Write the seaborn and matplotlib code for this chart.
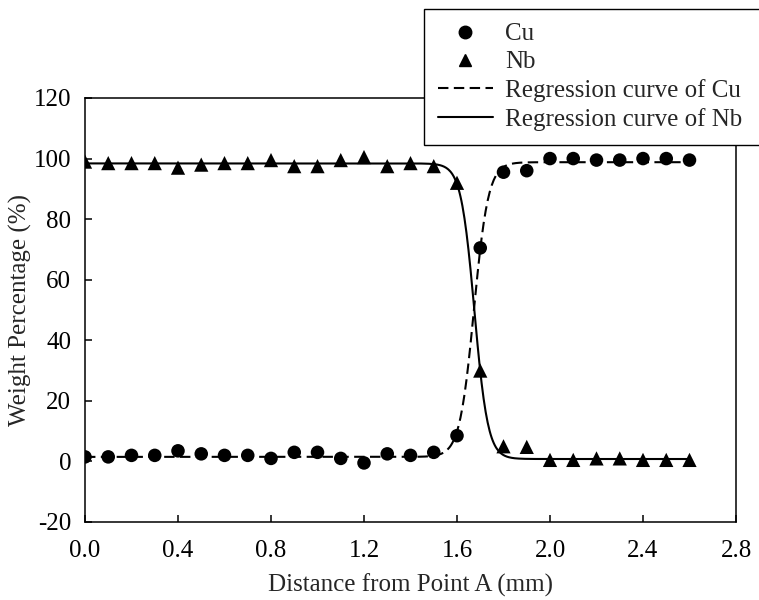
import numpy as np
import matplotlib
matplotlib.use("Agg")
import matplotlib.pyplot as plt
import seaborn as sns
from matplotlib.lines import Line2D

# measured composition along the line scan
distance = [0.0, 0.1, 0.2, 0.3, 0.4, 0.5, 0.6, 0.7, 0.8, 0.9, 1.0, 1.1, 1.2, 1.3,
            1.4, 1.5, 1.6, 1.7, 1.8, 1.9, 2.0, 2.1, 2.2, 2.3, 2.4, 2.5, 2.6]
cu_wt = [1.5, 1.5, 2.0, 2.0, 3.5, 2.5, 2.0, 2.0, 1.0, 3.0, 3.0, 1.0, -0.5, 2.5,
         2.0, 3.0, 8.5, 70.5, 95.5, 96.0, 100.0, 100.0, 99.5, 99.5, 100.0, 100.0, 99.5]
nb_wt = [99.0, 98.5, 98.5, 98.5, 97.0, 98.0, 98.5, 98.5, 99.5, 97.5, 97.5, 99.5, 100.5, 97.5,
         98.5, 97.5, 92.0, 30.0, 5.0, 4.8, 0.5, 0.5, 1.0, 1.0, 0.5, 0.5, 0.5]

# sigmoid regression parameters (low, high, centre, width)
cu_fit = (1.5, 98.8, 1.673, 0.031)
nb_fit = (0.8, 98.4, 1.675, 0.029)

x_ticks = [0.0, 0.4, 0.8, 1.2, 1.6, 2.0, 2.4, 2.8]
y_ticks = [-20, 0, 20, 40, 60, 80, 100, 120]

sns.set_style("white")
plt.rcParams['font.family'] = ['Liberation Serif', 'DejaVu Serif']

fig = plt.figure(figsize=(7.59, 6), dpi=100)
ax = fig.add_axes([85 / 759, 78 / 600, 651 / 759, 424 / 600])

xx = np.linspace(distance[0], distance[-1], 600)
lo, hi, c, w = cu_fit
cu_curve = lo + (hi - lo) / (1 + np.exp(-(xx - c) / w))
lo, hi, c, w = nb_fit
nb_curve = hi - (hi - lo) / (1 + np.exp(-(xx - c) / w))

dash = (0, (5.0, 2.6))
sns.lineplot(x=xx, y=cu_curve, ax=ax, color='black', linewidth=1.5, linestyle=dash)
sns.lineplot(x=xx, y=nb_curve, ax=ax, color='black', linewidth=1.5)
sns.scatterplot(x=distance, y=cu_wt, ax=ax, marker='o', s=95, color='black',
                edgecolor='none', zorder=3)
sns.scatterplot(x=distance, y=nb_wt, ax=ax, marker='^', s=105, color='black',
                edgecolor='none', zorder=3)

ax.set_xlim(0, 2.8)
ax.set_ylim(-20, 120)
ax.set_xticks(x_ticks)
ax.set_xticklabels(['%.1f' % t for t in x_ticks])
ax.set_yticks(y_ticks)
ax.set_yticklabels([str(t) for t in y_ticks])
ax.tick_params(direction='in', length=5, width=1.1, labelsize=18,
               colors='black', bottom=True, left=True)
ax.tick_params(axis='x', pad=13)
ax.tick_params(axis='y', pad=10)
for s in ax.spines.values():
    s.set_visible(True)
    s.set_color('black')
    s.set_linewidth(1.1)

ax.set_xlabel('Distance from Point A (mm)', fontsize=18, labelpad=8)
ax.set_ylabel('Weight Percentage (%)', fontsize=18, labelpad=1)

handles = [
    Line2D([], [], marker='o', color='black', linestyle='none', markersize=9),
    Line2D([], [], marker='^', color='black', linestyle='none', markersize=9),
    Line2D([], [], color='black', linewidth=1.5, linestyle=dash),
    Line2D([], [], color='black', linewidth=1.5),
]
labels = ['Cu', 'Nb', 'Regression curve of Cu', 'Regression curve of Nb']
# legend box runs past the right edge of the figure, as in the original
leg = fig.legend(handles, labels, loc='upper left', mode='expand',
                 bbox_to_anchor=(424 / 759, 1 - 9 / 600, 360 / 759, 0),
                 frameon=True, fancybox=False, framealpha=1, edgecolor='black',
                 fontsize=18, handlelength=2.2, handletextpad=0.5,
                 labelspacing=0.23, borderpad=0.55, borderaxespad=0)
leg.get_frame().set_linewidth(1.0)

fig.savefig('out.png', dpi=100)
